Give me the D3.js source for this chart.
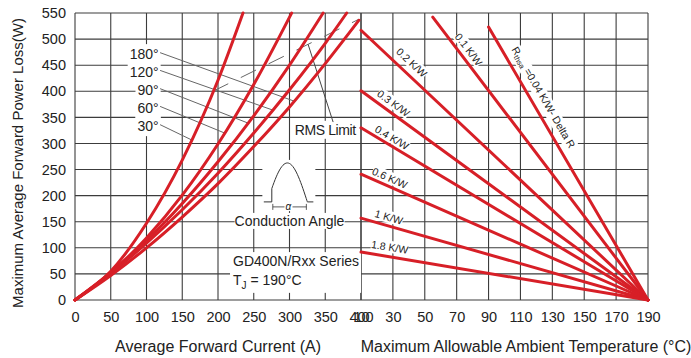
<!DOCTYPE html>
<html>
<head>
<meta charset="utf-8">
<script src="https://cdn.jsdelivr.net/npm/d3@7"></script>
<style>
  body { margin: 0; background: #fff; }
  text { font-family: "Liberation Sans", Arial, sans-serif; fill: #222; }
</style>
</head>
<body>
<div id="chart"></div>
<script>
// tick values
var currentTicks = [0, 50, 100, 150, 200, 250, 300, 350, 400];
var tempTicks = [10, 30, 50, 70, 90, 110, 130, 150, 170, 190];
var powerTicks = [0, 50, 100, 150, 200, 250, 300, 350, 400, 450, 500, 550];

// power loss vs average current, one pair of arrays per conduction angle
var angleLabels = ["30°", "60°", "90°", "120°", "180°"];
var c30I = [0, 50, 100, 150, 200, 235];
var c30P = [0, 55, 147, 268, 421, 550];
var c60I = [0, 50, 100, 150, 200, 250, 303];
var c60P = [0, 52, 119, 201, 299, 413, 550];
var c90I = [0, 50, 100, 150, 200, 250, 300, 347];
var c90P = [0, 53, 114, 185, 265, 353, 450, 550];
var c120I = [0, 50, 100, 150, 200, 250, 300, 350, 380];
var c120P = [0, 51, 109, 173, 243, 320, 403, 492, 550];
var c180I = [0, 50, 100, 150, 200, 250, 300, 350, 397];
var c180P = [0, 47, 100, 159, 223, 294, 370, 453, 536];
var curvesI = [c30I, c60I, c90I, c120I, c180I];
var curvesP = [c30P, c60P, c90P, c120P, c180P];

// where the angle labels sit and where their leaders touch the curves (W)
var angleLabelP = [333, 368, 402, 437, 471];
var leaderEndP = [307, 320, 339, 364, 381];

// RMS limit line (A, W)
var rmsI = [193, 397];
var rmsP = [400, 538];

// thermal resistance lines: start (T, P) -> (190 C, 0 W)
var rthLabels = ["Rth", "0.1 K/W", "0.2 K/W", "0.3 K/W", "0.4 K/W", "0.6 K/W", "1 K/W", "1.8 K/W"];
var rthStartT = [90, 55, 10, 10, 10, 10, 10, 10];
var rthStartP = [523, 542, 517, 401, 330, 241, 157, 92];
var rthEndT = 190, rthEndP = 0;
var rthLabelT = [118, 73, 37, 27, 27, 26, 26, 27];
var rthLabelOff = [12, 9, 11, 9, 7.5, 8, 8.5, 9.5];

var width = 691, height = 358;
var red = "#d71f27";

var xL = d3.scaleLinear().domain([0, 400]).range([75, 361]);
var xR = d3.scaleLinear().domain([10, 190]).range([361, 648]);
var y = d3.scaleLinear().domain([0, 550]).range([300, 13]);

var svg = d3.select("#chart").append("svg")
  .attr("width", width)
  .attr("height", height);

var gGrid = svg.append("g");
var gBg = svg.append("g");
var gLead = svg.append("g");
var gLines = svg.append("g");
var gText = svg.append("g");

// white box behind a text node (in its own transform)
function addBg(node, pad) {
  var b = node.getBBox();
  var tr = d3.select(node.parentNode).attr("transform");
  gBg.append("rect")
    .attr("transform", tr)
    .attr("x", b.x - pad).attr("y", b.y - pad)
    .attr("width", b.width + 2 * pad).attr("height", b.height + 2 * pad)
    .attr("fill", "#fff");
}

// grid
powerTicks.forEach(function (p) {
  gGrid.append("line")
    .attr("x1", xL(0)).attr("x2", xR(190))
    .attr("y1", y(p)).attr("y2", y(p));
});
currentTicks.forEach(function (c) {
  gGrid.append("line")
    .attr("x1", xL(c)).attr("x2", xL(c))
    .attr("y1", y(0)).attr("y2", y(550));
});
tempTicks.forEach(function (t) {
  gGrid.append("line")
    .attr("x1", xR(t)).attr("x2", xR(t))
    .attr("y1", y(0)).attr("y2", y(550));
});
gGrid.selectAll("line").attr("stroke", "#3c3c3c").attr("stroke-width", 1.1);

// axes (labels only)
var axY = svg.append("g").attr("transform", "translate(" + xL(0) + ",0)")
  .call(d3.axisLeft(y).tickValues(powerTicks).tickSize(0).tickPadding(9));
var axL = svg.append("g").attr("transform", "translate(0," + y(0) + ")")
  .call(d3.axisBottom(xL).tickValues(currentTicks).tickSize(0).tickPadding(12));
var axR = svg.append("g").attr("transform", "translate(0," + y(0) + ")")
  .call(d3.axisBottom(xR).tickValues(tempTicks).tickSize(0).tickPadding(12));
[axY, axL, axR].forEach(function (a) {
  a.select(".domain").remove();
  a.attr("font-family", null).attr("font-size", null);
  a.selectAll("text").style("font-size", "14.5px").attr("fill", "#222");
});

// titles
svg.append("text")
  .attr("transform", "translate(18,163) rotate(-90)")
  .attr("text-anchor", "middle").attr("dy", "0.35em")
  .style("font-size", "15px")
  .text("Maximum Average Forward Power Loss(W)");
svg.append("text")
  .attr("x", 218).attr("y", 352).attr("text-anchor", "middle")
  .style("font-size", "16px")
  .text("Average Forward Current (A)");
svg.append("text")
  .attr("x", 526).attr("y", 352).attr("text-anchor", "middle")
  .style("font-size", "16px")
  .text("Maximum Allowable Ambient Temperature (°C)");

// left curves
var line = d3.line()
  .x(function (d) { return xL(d[0]); })
  .y(function (d) { return y(d[1]); })
  .curve(d3.curveMonotoneX);

curvesI.forEach(function (ci, k) {
  var pts = ci.map(function (c, i) { return [c, curvesP[k][i]]; });
  gLines.append("path")
    .datum(pts)
    .attr("d", line)
    .attr("fill", "none")
    .attr("stroke", red)
    .attr("stroke-width", 3)
    .attr("stroke-linecap", "round");
});

// angle labels + leaders
angleLabels.forEach(function (lab, k) {
  var g = gText.append("g");
  var t = g.append("text")
    .attr("x", xL(117)).attr("y", y(angleLabelP[k]))
    .attr("dy", "0.35em")
    .attr("text-anchor", "end")
    .style("font-size", "14px")
    .text(lab);
  addBg(t.node(), 2);
  var inv = d3.scaleLinear().domain(curvesP[k]).range(curvesI[k]);
  gLead.append("line")
    .attr("x1", xL(119)).attr("y1", y(angleLabelP[k] + 3))
    .attr("x2", xL(inv(leaderEndP[k]))).attr("y2", y(leaderEndP[k]))
    .attr("stroke", "#666").attr("stroke-width", 1);
});

// RMS limit
gLead.append("line")
  .attr("x1", xL(rmsI[0])).attr("y1", y(rmsP[0]))
  .attr("x2", xL(rmsI[1])).attr("y2", y(rmsP[1]))
  .attr("stroke", "#666").attr("stroke-width", 1)
  .attr("stroke-dasharray", "17,14");
var rmsAt = d3.scaleLinear().domain(rmsI).range(rmsP);
gLead.append("line")
  .attr("x1", xL(361)).attr("y1", y(341))
  .attr("x2", xL(326)).attr("y2", y(rmsAt(326)))
  .attr("stroke", "#444").attr("stroke-width", 1);
var rmsG = gText.append("g");
var rmsT = rmsG.append("text")
  .attr("x", xL(350)).attr("y", y(326)).attr("dy", "0.35em")
  .attr("text-anchor", "middle")
  .style("font-size", "14px").style("letter-spacing", "-0.4px")
  .text("RMS Limit");
addBg(rmsT.node(), 1);

// conduction angle icon
var ix = xL(297), iy = y(188);
var icon = gText.append("g").attr("transform", "translate(" + ix + "," + iy + ")");
gBg.append("rect").attr("x", ix - 25).attr("y", iy - 42)
  .attr("width", 53).attr("height", 49).attr("fill", "#fff");
var phi0 = 20;
var arch = d3.range(phi0, 181, 5).map(function (a) {
  return [-20 + 40 * a / 180, -39 * Math.sin(a * Math.PI / 180)];
});
var x0 = -20 + 40 * phi0 / 180;
icon.append("path")
  .attr("d", "M" + (x0 - 8) + ",0H" + x0 + "V" + arch[0][1] + d3.line().curve(d3.curveBasis)(arch).replace(/^M/, "L") + "M20,0H26")
  .attr("fill", "none").attr("stroke", "#333").attr("stroke-width", 1);
icon.append("path")
  .attr("d", "M" + (x0 + 1) + ",5H19M" + (x0 + 1) + ",2V8M19,2V8")
  .attr("fill", "none").attr("stroke", "#333").attr("stroke-width", 0.8);
var alpha = icon.append("text").attr("x", 1).attr("y", 5).attr("dy", "0.32em")
  .attr("text-anchor", "middle").style("font-size", "10px").style("font-style", "italic")
  .text("α");
var ab = alpha.node().getBBox();
icon.insert("rect", "text").attr("x", ab.x - 1).attr("y", ab.y + 1)
  .attr("width", ab.width + 2).attr("height", ab.height - 2).attr("fill", "#fff");

var caG = gText.append("g");
var caT = caG.append("text")
  .attr("x", xL(300)).attr("y", y(142))
  .attr("text-anchor", "middle")
  .style("font-size", "14px")
  .text("Conduction Angle");
addBg(caT.node(), 0);

var serG = gText.append("g");
var serT = serG.append("text")
  .attr("x", xL(221)).attr("y", y(65))
  .style("font-size", "14px")
  .text("GD400N/Rxx Series");
var tjT = serG.append("text")
  .attr("x", xL(221)).attr("y", y(29))
  .style("font-size", "14px");
tjT.append("tspan").text("T");
tjT.append("tspan").attr("dy", 4).style("font-size", "10px").text("J");
tjT.append("tspan").attr("dy", -4).text(" = 190°C");
(function () {
  var b1 = serT.node().getBBox(), b2 = tjT.node().getBBox();
  var x1 = Math.min(b1.x, b2.x) - 3, y1 = b1.y - 1;
  var x2 = Math.max(b1.x + b1.width, b2.x + b2.width) + 2, y2 = b2.y + b2.height + 2;
  gBg.append("rect").attr("x", x1).attr("y", y1)
    .attr("width", x2 - x1).attr("height", y2 - y1).attr("fill", "#fff");
})();

// thermal resistance lines
rthLabels.forEach(function (lab, k) {
  var xa = xR(rthStartT[k]), ya = y(rthStartP[k]);
  var xb = xR(rthEndT), yb = y(rthEndP);
  gLines.append("line")
    .attr("x1", xa).attr("y1", ya).attr("x2", xb).attr("y2", yb)
    .attr("stroke", red).attr("stroke-width", 3)
    .attr("stroke-linecap", "round");

  var ang = Math.atan2(yb - ya, xb - xa);
  var pAt = d3.scaleLinear().domain([rthStartT[k], rthEndT]).range([rthStartP[k], rthEndP]);
  var px = xR(rthLabelT[k]), py = y(pAt(rthLabelT[k]));
  var off = rthLabelOff[k];
  var cx = px + off * Math.sin(ang), cy = py - off * Math.cos(ang);
  var g = gText.append("g")
    .attr("transform", "translate(" + cx + "," + cy + ") rotate(" + (ang * 180 / Math.PI) + ")");
  var t = g.append("text")
    .attr("text-anchor", "middle").attr("dy", "0.35em")
    .style("font-size", "10.5px");
  if (lab === "Rth") {
    t.append("tspan").text("R");
    t.append("tspan").attr("dy", 2).style("font-size", "7.5px").text("thsa");
    t.append("tspan").attr("dy", -2).text(" =0.04 K/W- Delta R");
  } else {
    t.text(lab);
  }
  addBg(t.node(), 0);
});
</script>
</body>
</html>
